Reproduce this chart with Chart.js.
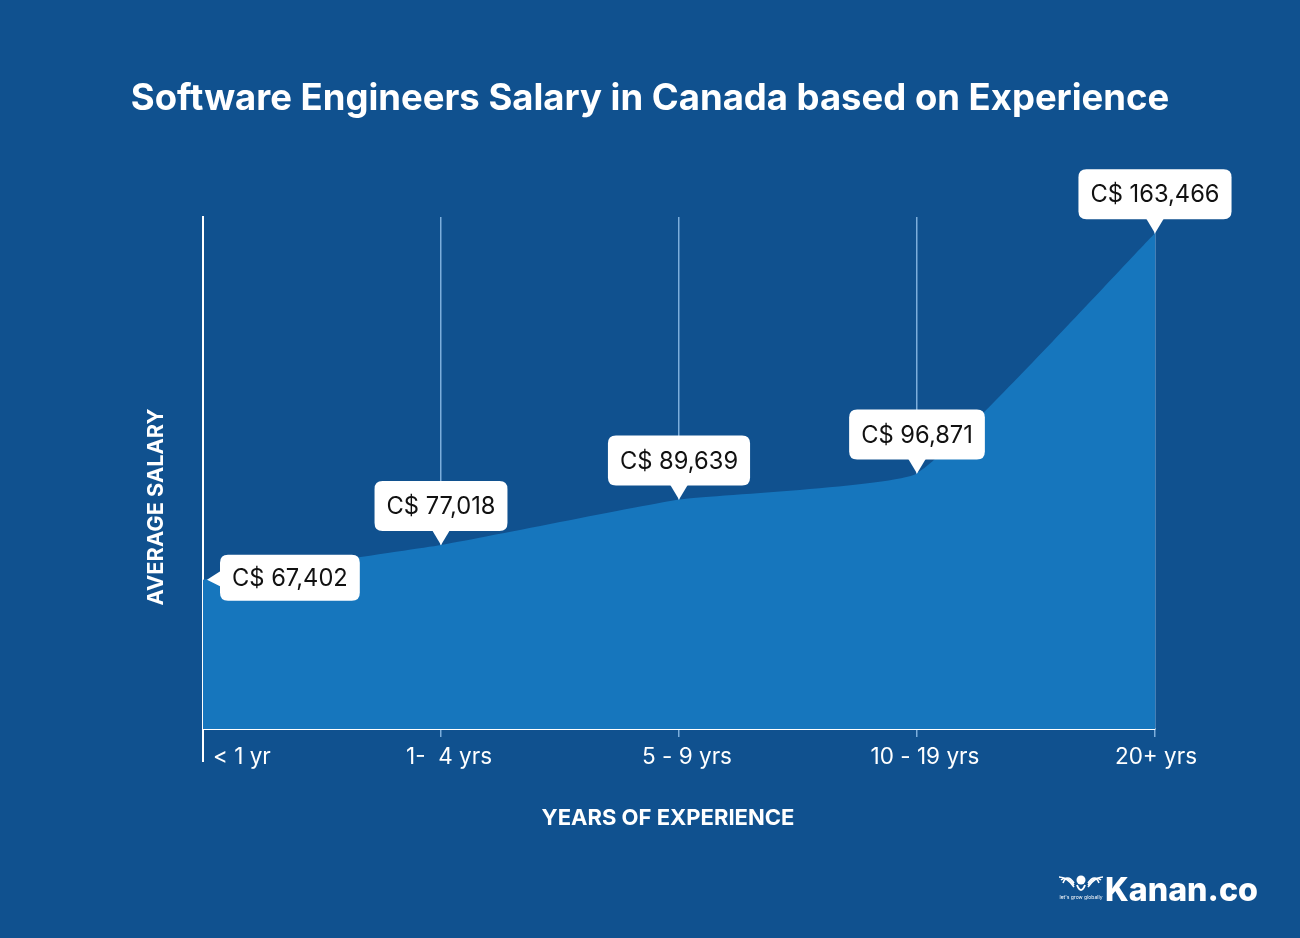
<!DOCTYPE html>
<html><head><meta charset="utf-8">
<script src="https://cdn.jsdelivr.net/npm/chart.js@4.4.0/dist/chart.umd.min.js"></script>
<style>html,body{margin:0;padding:0;background:#10518f;overflow:hidden}#wrap{width:1300px;height:938px;position:relative}canvas{display:block}</style>
</head><body><div id="wrap"><canvas id="c" width="1300" height="938"></canvas></div>
<script>
const chartTitle = "Software Engineers Salary in Canada based on Experience";
const categories = ["< 1 yr", "1-  4 yrs", "5 - 9 yrs", "10 - 19 yrs", "20+ yrs"];
const salaries = [67402, 77018, 89639, 96871, 163466];
const valueLabels = ["C$ 67,402", "C$ 77,018", "C$ 89,639", "C$ 96,871", "C$ 163,466"];
const yAxisTitle = "AVERAGE SALARY";
const xAxisTitle = "YEARS OF EXPERIENCE";
const brandName = "Kanan.co";
const brandTagline = "let's grow globally";

const BG = '#10518f';
const AREA = '#1676bd';
const GRID = 'rgba(160,205,245,0.75)';
const FAMILY = 'Inter, "Open Sans", sans-serif';

function fitSize(ctx, text, weight, target) {
  ctx.font = weight + ' 100px ' + FAMILY;
  const w = ctx.measureText(text).width;
  return 100 * target / w;
}
function roundRect(ctx, x, y, w, h, r) {
  ctx.beginPath();
  ctx.moveTo(x + r, y);
  ctx.lineTo(x + w - r, y);
  ctx.quadraticCurveTo(x + w, y, x + w, y + r);
  ctx.lineTo(x + w, y + h - r);
  ctx.quadraticCurveTo(x + w, y + h, x + w - r, y + h);
  ctx.lineTo(x + r, y + h);
  ctx.quadraticCurveTo(x, y + h, x, y + h - r);
  ctx.lineTo(x, y + r);
  ctx.quadraticCurveTo(x, y, x + r, y);
  ctx.closePath();
}

const bgPlugin = {
  id: 'bg',
  beforeDraw(chart) {
    const ctx = chart.ctx;
    ctx.save();
    ctx.fillStyle = BG;
    ctx.fillRect(0, 0, chart.width, chart.height);
    ctx.restore();
  }
};

const decoPlugin = {
  id: 'deco',
  afterDraw(chart) {
    const ctx = chart.ctx;
    const xs = chart.scales.x;
    const area = chart.chartArea;
    ctx.save();
    // y axis extension below x axis
    ctx.strokeStyle = '#ffffff';
    ctx.lineWidth = 2;
    ctx.beginPath();
    ctx.moveTo(area.left, area.bottom);
    ctx.lineTo(area.left, area.bottom + 33);
    ctx.stroke();

    // title
    ctx.fillStyle = '#ffffff';
    ctx.textBaseline = 'middle';
    ctx.textAlign = 'center';
    let s = fitSize(ctx, chartTitle, '700', 1039);
    ctx.font = '700 ' + s + 'px ' + FAMILY;
    ctx.fillText(chartTitle, 650, 99);

    // x axis title
    s = fitSize(ctx, xAxisTitle, '700', 253);
    ctx.font = '700 ' + s + 'px ' + FAMILY;
    ctx.fillText(xAxisTitle, 668, 818);

    // y axis title
    ctx.save();
    ctx.translate(156, 507);
    ctx.rotate(-Math.PI / 2);
    s = fitSize(ctx, yAxisTitle, '700', 197);
    ctx.font = '700 ' + s + 'px ' + FAMILY;
    ctx.fillText(yAxisTitle, 0, 0);
    ctx.restore();

    // category labels
    s = fitSize(ctx, categories[2], '400', 90);
    ctx.font = '400 ' + s + 'px ' + FAMILY;
    categories.forEach((c, i) => {
      const px = xs.getPixelForValue(i);
      if (i === 0) {
        ctx.textAlign = 'left';
        ctx.fillText(c, px + 10, 757);
      } else if (i === categories.length - 1) {
        ctx.textAlign = 'center';
        ctx.fillText(c, px + 1, 757);
      } else {
        ctx.textAlign = 'center';
        ctx.fillText(c, px + 8, 757);
      }
    });

    // value callouts
    const meta = chart.getDatasetMeta(0);
    const fs = fitSize(ctx, valueLabels[1], '400', 109);
    ctx.font = '400 ' + fs + 'px ' + FAMILY;
    valueLabels.forEach((lab, i) => {
      const pt = meta.data[i];
      const tw = ctx.measureText(lab).width;
      const bw = tw + 24, bh = 50;
      ctx.fillStyle = '#ffffff';
      if (i === 0) {
        const bx = pt.x + 17, by = pt.y - bh / 2;
        roundRect(ctx, bx, by, bw, bh - 4, 8);
        ctx.fill();
        ctx.beginPath();
        ctx.moveTo(bx + 1, pt.y - 9);
        ctx.lineTo(pt.x + 4, pt.y);
        ctx.lineTo(bx + 1, pt.y + 7);
        ctx.closePath();
        ctx.fill();
        ctx.fillStyle = '#111111';
        ctx.textAlign = 'center';
        ctx.fillText(lab, bx + bw / 2, by + (bh - 4) / 2 + 1);
      } else {
        const bx = pt.x - bw / 2, by = pt.y - 14 - bh;
        roundRect(ctx, bx, by, bw, bh, 8);
        ctx.fill();
        ctx.beginPath();
        ctx.moveTo(pt.x - 9, by + bh - 1);
        ctx.lineTo(pt.x, pt.y);
        ctx.lineTo(pt.x + 9, by + bh - 1);
        ctx.closePath();
        ctx.fill();
        ctx.fillStyle = '#111111';
        ctx.textAlign = 'center';
        ctx.fillText(lab, pt.x, by + bh / 2 + 1);
      }
    });

    // brand logo
    ctx.fillStyle = '#ffffff';
    ctx.textAlign = 'left';
    s = fitSize(ctx, brandName, '800', 153);
    ctx.font = '800 ' + s + 'px ' + FAMILY;
    ctx.textBaseline = 'alphabetic';
    ctx.fillText(brandName, 1105, 901);
    // icon: head + wings
    const cx = 1081, cy = 883;
    ctx.beginPath();
    ctx.arc(cx, cy - 3, 4.5, 0, Math.PI * 2);
    ctx.fill();
    ctx.lineWidth = 2;
    ctx.strokeStyle = '#ffffff';
    ctx.beginPath();
    ctx.moveTo(cx - 4, cy + 2); ctx.quadraticCurveTo(cx, cy + 12, cx + 4, cy + 2);
    ctx.stroke();
    for (const d of [-1, 1]) {
      for (let k = 0; k < 3; k++) {
        ctx.beginPath();
        ctx.moveTo(cx + d * 7, cy + 4 - k * 2);
        ctx.quadraticCurveTo(cx + d * 14, cy - 6 - k * 2, cx + d * (22 - k * 2), cy - 6 + k * 3);
        ctx.lineWidth = 1.6;
        ctx.stroke();
      }
    }
    ctx.font = '400 5px ' + FAMILY;
    ctx.textAlign = 'center';
    ctx.fillText(brandTagline, cx, cy + 16);
    ctx.restore();
  }
};

new Chart(document.getElementById('c'), {
  type: 'line',
  data: {
    labels: categories,
    datasets: [{
      data: salaries,
      fill: 'origin',
      backgroundColor: AREA,
      borderWidth: 0,
      borderColor: AREA,
      pointRadius: 0,
      tension: 0.12,
      clip: false
    }]
  },
  options: {
    responsive: false,
    animation: false,
    devicePixelRatio: 1,
    layout: { padding: { left: 203, right: 145, top: 217, bottom: 201 } },
    plugins: { legend: { display: false }, tooltip: { enabled: false }, title: { display: false } },
    scales: {
      x: {
        type: 'category',
        offset: false,
        z: 1,
        grid: {
          display: true,
          color: (c) => c.index === 0 ? 'rgba(0,0,0,0)' : GRID,
          lineWidth: 1.5,
          drawTicks: true,
          tickLength: 8,
          tickColor: (c) => c.index === 0 ? 'rgba(0,0,0,0)' : GRID
        },
        border: { display: true, color: '#ffffff', width: 2 },
        ticks: { display: false }
      },
      y: {
        min: 26000,
        max: 168000,
        z: 1,
        grid: { display: false, drawTicks: false },
        border: { display: true, color: '#ffffff', width: 2 },
        ticks: { display: false }
      }
    }
  },
  plugins: [bgPlugin, decoPlugin]
});
</script>
</body></html>
